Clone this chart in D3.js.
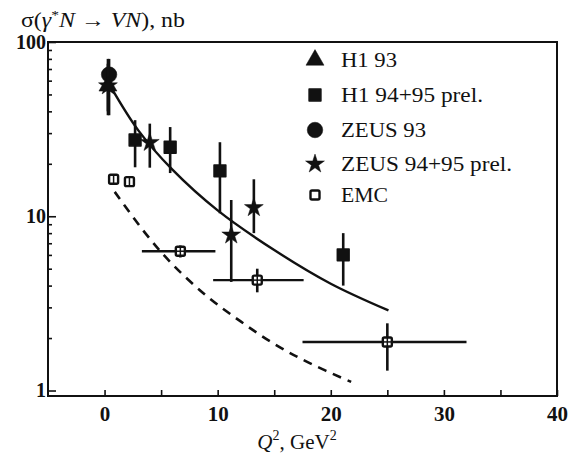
<!DOCTYPE html>
<html><head><meta charset="utf-8">
<script src="https://cdn.jsdelivr.net/npm/d3@7"></script>
<style>
body{margin:0;background:#fff;}
svg{display:block;}
text{font-family:"Liberation Serif","Times New Roman",serif;fill:#111;}
</style></head>
<body><div id="chart"></div>
<script>
// ---- data ----
const xTicks = [0, 5, 10, 15, 20, 25, 30, 35, 40];
const xTickLabels = [0, 10, 20, 30, 40];
const yTickLabels = [1, 10, 100];

const h1_93_q2 = [0.3];
const h1_93_sigma = [56];
const h1_93_lo = [40];
const h1_93_hi = [75];

const h1_9495_q2 = [2.7, 5.8, 10.2, 21.1];
const h1_9495_sigma = [27.4, 24.9, 18.2, 6.0];
const h1_9495_lo = [19.1, 17.7, 10.4, 4.0];
const h1_9495_hi = [35.6, 32.5, 26.6, 8.0];

const zeus_93_q2 = [0.4];
const zeus_93_sigma = [65];
const zeus_93_lo = [38];
const zeus_93_hi = [80];

const zeus_9495_q2 = [0.3, 4.0, 11.2, 13.2];
const zeus_9495_sigma = [56, 26.5, 7.8, 11.2];
const zeus_9495_lo = [38, 19, 4.2, 8.0];
const zeus_9495_hi = [80, 34, 12.4, 16.3];

const emc_q2 = [0.8, 2.2, 6.7, 13.5, 25.0];
const emc_sigma = [16.3, 15.8, 6.3, 4.3, 1.9];
const emc_q2lo = [0.8, 2.2, 3.3, 9.6, 17.5];
const emc_q2hi = [0.8, 2.2, 9.8, 17.6, 32.0];
const emc_lo = [16.3, 15.8, 5.8, 3.66, 1.3];
const emc_hi = [16.3, 15.8, 6.8, 5.0, 2.43];

const solid_q2 = [0.5, 3, 6, 10, 15, 20, 25.1];
const solid_sigma = [56, 31, 18.5, 10.8, 6.4, 4.1, 2.88];

const dashed_q2 = [0.9, 3.6, 6, 9, 12, 15, 18, 21.8];
const dashed_sigma = [13.8, 8.0, 5.3, 3.5, 2.5, 1.85, 1.45, 1.12];

const legendLabels = ["H1 93", "H1 94+95 prel.", "ZEUS 93", "ZEUS 94+95 prel.", "EMC"];
const legendSymbols = ["triangle", "square", "circle", "star", "open"];

// ---- drawing ----
const W = 569, H = 453;
const L = 48, R = 557, T = 42, B = 396;
const svg = d3.select("#chart").append("svg").attr("width", W).attr("height", H);

const x = d3.scaleLinear().domain([-5, 40]).range([L, R]);
const y = d3.scaleLog().domain([0.93, 100]).range([B, T]);

// frame
svg.append("rect").attr("x", L).attr("y", T).attr("width", R - L).attr("height", B - T)
  .attr("fill", "none").attr("stroke", "#111").attr("stroke-width", 2);

// x axis
const xAxis = svg.append("g").attr("transform", `translate(0,${B})`)
  .call(d3.axisBottom(x).tickValues(xTicks).tickSizeInner(-6).tickSizeOuter(0).tickPadding(10)
    .tickFormat(d => xTickLabels.includes(d) ? d : ""));
xAxis.select(".domain").remove();
xAxis.selectAll("line").attr("stroke", "#111").attr("stroke-width", 1.6);
xAxis.selectAll("text").style("font-family", "Liberation Serif").style("font-size", "21px")
  .style("font-weight", "bold").attr("fill", "#111");

// y axis
const yTicks = [];
for (const dec of [1, 10]) for (let k = 1; k <= 9; k++) yTicks.push(k * dec);
yTicks.push(100);
const yAxis = svg.append("g").attr("transform", `translate(${L},0)`)
  .call(d3.axisLeft(y).tickValues(yTicks).tickSizeInner(-4).tickSizeOuter(0).tickPadding(2)
    .tickFormat(d => yTickLabels.includes(d) ? d : ""));
yAxis.select(".domain").remove();
yAxis.selectAll("line").attr("stroke", "#111").attr("stroke-width", 1.6)
  .attr("x2", d => yTickLabels.includes(d) ? 8 : 4);
yAxis.selectAll("text").style("font-family", "Liberation Serif").style("font-size", "20px")
  .style("font-weight", "bold").attr("fill", "#111");

// axis titles
const yt = svg.append("text").attr("x", 21).attr("y", 27).style("font-size", "20px")
  .attr("textLength", 164).attr("lengthAdjust", "spacingAndGlyphs");
yt.append("tspan").text("σ(");
yt.append("tspan").style("font-style", "italic").text("γ");
yt.append("tspan").attr("dy", -8).style("font-size", "13px").text("*");
yt.append("tspan").attr("dy", 8).style("font-style", "italic").text("N");
yt.append("tspan").text(" → ");
yt.append("tspan").style("font-style", "italic").text("VN");
yt.append("tspan").text("), nb");

const xt = svg.append("text").attr("x", 297).attr("y", 449).attr("text-anchor", "middle").style("font-size", "21px");
xt.append("tspan").style("font-style", "italic").text("Q");
xt.append("tspan").attr("dy", -9).style("font-size", "14px").text("2");
xt.append("tspan").attr("dy", 9).text(", GeV");
xt.append("tspan").attr("dy", -9).style("font-size", "14px").text("2");

// curves
const line = d3.line().x(d => x(d[0])).y(d => y(d[1])).curve(d3.curveCatmullRom);
svg.append("path").datum(solid_q2.map((q, i) => [q, solid_sigma[i]]))
  .attr("d", line).attr("fill", "none").attr("stroke", "#111").attr("stroke-width", 2.4);
svg.append("path").datum(dashed_q2.map((q, i) => [q, dashed_sigma[i]]))
  .attr("d", line).attr("fill", "none").attr("stroke", "#111").attr("stroke-width", 2.6)
  .attr("stroke-dasharray", "9,7");

// symbols
const symGen = {
  triangle: d3.symbol(d3.symbolTriangle, 140),
  square: d3.symbol(d3.symbolSquare, 140),
  circle: d3.symbol(d3.symbolCircle, 190),
  star: d3.symbol(d3.symbolStar, 110)
};
function drawSymbol(g, type, cx, cy) {
  if (type === "open") {
    g.append("rect").attr("x", cx - 4.5).attr("y", cy - 4.5).attr("width", 9).attr("height", 9)
      .attr("rx", 1.5).attr("fill", "#fff").attr("stroke", "#111").attr("stroke-width", 2.4);
  } else {
    g.append("path").attr("d", symGen[type]()).attr("transform", `translate(${cx},${cy})`)
      .attr("fill", "#111").attr("stroke", "#111").attr("stroke-width", type === "square" ? 1.5 : 0.5)
      .attr("stroke-linejoin", "round");
  }
}
function drawSeries(q2, s, lo, hi, type, q2lo, q2hi) {
  const g = svg.append("g");
  q2.forEach((q, i) => {
    g.append("line").attr("x1", x(q)).attr("x2", x(q)).attr("y1", y(lo[i])).attr("y2", y(hi[i]))
      .attr("stroke", "#111").attr("stroke-width", 2.6);
    if (q2lo && q2lo[i] !== q2hi[i]) {
      g.append("line").attr("x1", x(q2lo[i])).attr("x2", x(q2hi[i])).attr("y1", y(s[i])).attr("y2", y(s[i]))
        .attr("stroke", "#111").attr("stroke-width", 2.4);
    }
  });
  q2.forEach((q, i) => drawSymbol(g, type, x(q), y(s[i])));
  if (type === "open") {
    q2.forEach((q, i) => {
      g.append("line").attr("x1", x(q)).attr("x2", x(q)).attr("y1", y(s[i]) - 4).attr("y2", y(s[i]) + 4)
        .attr("stroke", "#111").attr("stroke-width", 1.5);
      if (q2lo[i] !== q2hi[i]) {
        g.append("line").attr("x1", x(q) - 4).attr("x2", x(q) + 4).attr("y1", y(s[i])).attr("y2", y(s[i]))
          .attr("stroke", "#111").attr("stroke-width", 1.5);
      }
    });
  }
}
drawSeries(emc_q2, emc_sigma, emc_lo, emc_hi, "open", emc_q2lo, emc_q2hi);
drawSeries(h1_9495_q2, h1_9495_sigma, h1_9495_lo, h1_9495_hi, "square");
drawSeries(zeus_93_q2, zeus_93_sigma, zeus_93_lo, zeus_93_hi, "circle");
drawSeries(h1_93_q2, h1_93_sigma, h1_93_lo, h1_93_hi, "triangle");
drawSeries(zeus_9495_q2, zeus_9495_sigma, zeus_9495_lo, zeus_9495_hi, "star");

// legend
const legendBase = [67, 102, 137, 171, 202];
const legendWidth = [56, 142, 85, 171, 47];
const lg = svg.append("g");
legendLabels.forEach((lab, i) => {
  drawSymbol(lg, legendSymbols[i], 315, legendBase[i] - 7);
  lg.append("text").attr("x", 341).attr("y", legendBase[i]).style("font-size", "20px")
    .attr("textLength", legendWidth[i]).attr("lengthAdjust", "spacingAndGlyphs").text(lab);
});
</script></body></html>
